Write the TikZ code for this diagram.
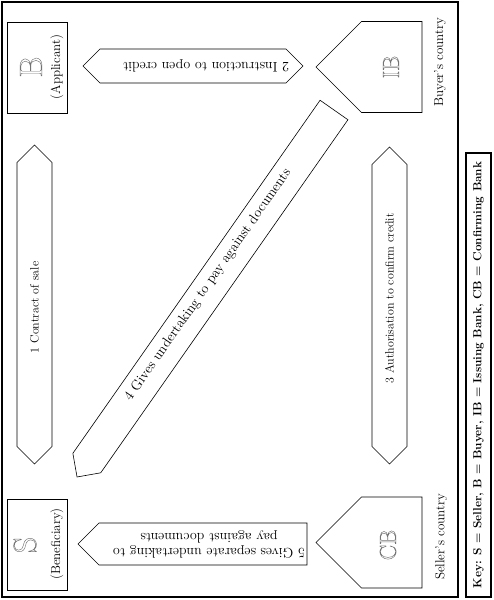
\documentclass[tikz,border=0pt]{standalone}
\usetikzlibrary{shapes.symbols}

\newcommand\hollow[1]{\special{pdf:literal direct 1 Tr 0.45 w 0.45 G}#1\special{pdf:literal direct 0 Tr}}

\begin{document}
\begin{tikzpicture}[x=1pt, y=-1pt, line width=.6pt,
		every node/.style={inner sep=0pt, outer sep=0pt, font=\fontsize{14}{15}\selectfont},
		party/.style={draw, minimum width=60pt, minimum height=91pt},
		bank/.style={draw, signal, signal to=west, signal pointer angle=90, minimum width=106pt, minimum height=91pt},
		flow/.style={draw, signal, signal pointer angle=90, minimum height=35pt},
		bigletter/.style={rotate=90, font=\fontsize{32}{32}\selectfont},
		letter/.style={rotate=90, font=\fontsize{23}{23}\selectfont},
		role/.style={rotate=90, font=\fontsize{13}{15}\selectfont},
		small/.style={font=\fontsize{12}{14}\selectfont}]
		\useasboundingbox (0,0) rectangle (493,600) ;
		\draw[line width=1.3pt] (2,2) rectangle (458,597) ;

		\node[party] (b) 			at (37,67.5) 	{} ;
		\node[bigletter] (blet) 	at (31,67) 		{\hollow{B}} ;
		\node[role] (bapp) 			at (57,67) 		{(Applicant)} ;

		\node[party] (s) 			at (37,544.5) 	{} ;
		\node[bigletter] (slet) 	at (25,545) 	{\hollow{S}} ;
		\node[role] (sben) 			at (57,544) 	{(Beneficiary)} ;

		\node[bank, anchor=east] (ib) 	at (422,67) 	{} ;
		\node[letter] (iblet) 			at (391,67) 	{\hollow{IB}} ;
		\node[bank, anchor=east] (cb) 	at (422,542.5) 	{} ;
		\node[letter] (cblet) 			at (388,545) 	{\hollow{CB}} ;

		\node[role] (buyer) 	at (440,62) 	{Buyer's country} ;
		\node[role] (seller) 	at (441,537) 	{Seller's country} ;

		\node[flow, signal to=west and east, rotate=90, minimum width=319pt] (a1) 	at (34.5,304.5) {} ;
		\node[small, rotate=90] (l1) 	at (34.5,307.5) {1 Contract of sale} ;

		\node[flow, signal to=west and east, minimum width=220pt, minimum height=34pt] (a2) 	at (193,66) {} ;
		\node[rotate=180] (l2) 	at (206,66) {2 Instruction to open credit} ;

		\node[flow, signal to=west and east, rotate=90, minimum width=317pt] (a3) 	at (389.5,305.5) {} ;
		\node[small, rotate=90] (l3) 	at (389.5,298.5) {3 Authorisation to confirm credit} ;

		\node[flow, signal to=west, rotate=55, minimum width=448pt, minimum height=34pt, anchor=east] (a4) 	at (334,110) {} ;
		\node[rotate=55] (l4) 	at (208,285) {4 Gives undertaking to pay against documents} ;

		\node[flow, signal to=east, rotate=180, minimum width=229pt, minimum height=42pt, anchor=west] (a5) 	at (307,544) {} ;
		\node[rotate=180, align=center] (l5) 	at (209,544) {5 Gives separate undertaking to\\pay against documents} ;

		\node[draw, line width=1.1pt, rotate=90, minimum width=444pt, minimum height=25pt, font=\fontsize{11.8}{14}\selectfont\bfseries] (key) 	at (478.5,375) {Key: S = Seller, B = Buyer, IB = Issuing Bank, CB = Confirming Bank} ;
\end{tikzpicture}
\end{document}
